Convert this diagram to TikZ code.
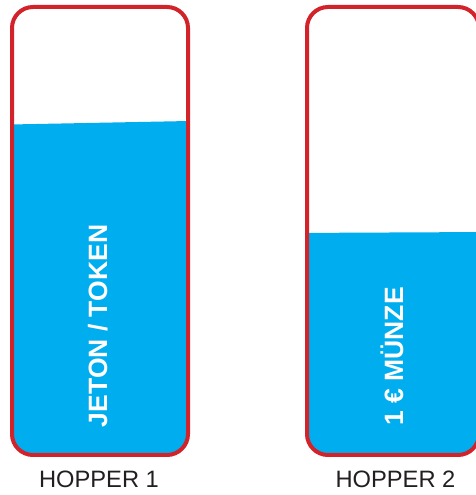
\documentclass[tikz,border=0pt]{standalone}
\usepackage{fontspec}
\setmainfont{Liberation Sans}
\definecolor{hred}{HTML}{D2232A}
\definecolor{hblue}{HTML}{00AEEF}
\definecolor{htext}{HTML}{231F20}
\begin{document}
\begin{tikzpicture}[x=1pt,y=1pt,
  outline/.style={draw=hred,line width=4pt,rounded corners=21pt},
  content/.style={rotate=90,anchor=base,text=white,font=\fontsize{26.5}{30}\selectfont\bfseries,inner sep=0pt},
  caption/.style={anchor=base,text=htext,font=\fontsize{23.7}{28}\selectfont,inner sep=0pt}]
\useasboundingbox (0,0) rectangle (476,495);
\clip (0,0) rectangle (476,495);
% hopper 1
\begin{scope}
  \clip[rounded corners=21pt] (12,40) rectangle (188,488);
  \fill[hblue] (0,0) -- (0,370.3) -- (200,374.2) -- (200,0) -- cycle;
\end{scope}
\draw[outline] (12,40) rectangle (188,488);
% hopper 2
\begin{scope}
  \clip[rounded corners=21pt] (307,40) rectangle (479,488);
  \fill[hblue] (290,0) -- (290,262) -- (490,263) -- (490,0) -- cycle;
\end{scope}
\draw[outline] (307,40) rectangle (479,488);
% texts
\node[content] (t1) at (107,169) {JETON / TOKEN};
\node[content] (t2) at (403,138.5) {1 € MÜNZE};
\node[caption] (c1) at (99,7) {HOPPER 1};
\node[caption] (c2) at (395.5,7) {HOPPER 2};
\end{tikzpicture}
\end{document}
